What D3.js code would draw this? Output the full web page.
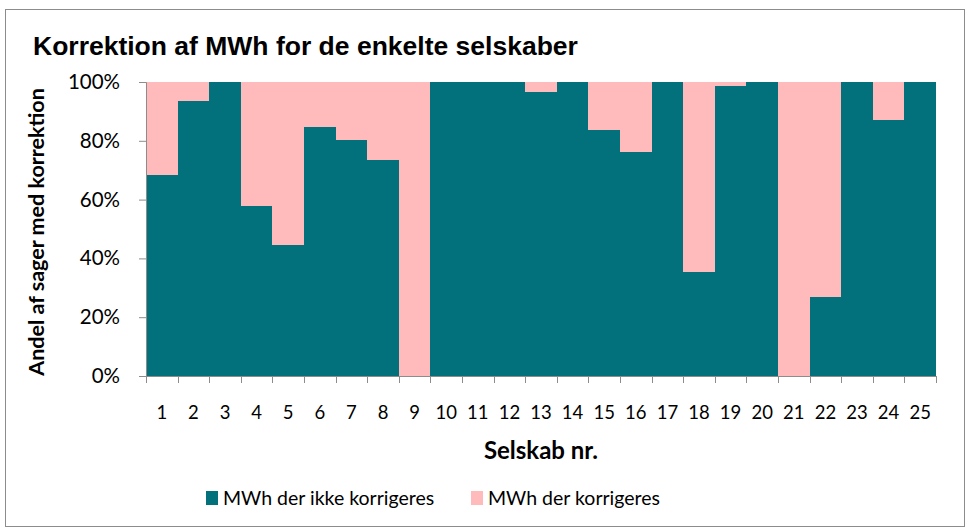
<!DOCTYPE html>
<html>
<head>
<meta charset="utf-8">
<script src="https://cdn.jsdelivr.net/npm/d3@7"></script>
<style>
  body { margin: 0; background: #fff; }
  svg { display: block; }
</style>
</head>
<body>
<svg id="drawing_region"></svg>
<script>
// andel af MWh (i %) pr. selskab
const companies = d3.range(1, 26).map(String);
const notCorrected = [68.5, 93.6, 100, 57.9, 44.5, 84.6, 80.3, 73.6, 0, 100,
                      100, 100, 96.6, 100, 83.6, 76.3, 100, 35.5, 98.5, 100,
                      0, 26.8, 100, 87.0, 100];
const corrected = notCorrected.map(v => 100 - v);
const yTicks = [0, 20, 40, 60, 80, 100];
const seriesNames = ["MWh der ikke korrigeres", "MWh der korrigeres"];
const seriesColors = ["#02717c", "#ffbbbb"];

const config = {
    width: 970,
    height: 532,
    margin: {top: 82, right: 34, bottom: 156, left: 146}
};

const svg = d3.select('#drawing_region')
    .attr('width', config.width)
    .attr('height', config.height);

svg.append('rect')
    .attr('x', 5.5).attr('y', 9.5)
    .attr('width', 959).attr('height', 517)
    .attr('fill', '#fff')
    .attr('stroke', '#8c8c8c')
    .attr('stroke-width', 1);

const inner_width = config.width - config.margin.left - config.margin.right;
const inner_height = config.height - config.margin.top - config.margin.bottom;

const chart = svg.append('g')
    .attr('transform', `translate(${config.margin.left}, ${config.margin.top})`);

const xscale = d3.scaleBand()
    .domain(companies)
    .range([0, inner_width])
    .padding(0);

const yscale = d3.scaleLinear()
    .domain([0, 100])
    .range([inner_height, 0]);

const table = companies.map((c, i) => ({company: c, a: notCorrected[i], b: corrected[i]}));
const stacked = d3.stack().keys(['a', 'b'])(table);

chart.selectAll('g.series')
    .data(stacked)
    .enter()
    .append('g')
    .attr('class', 'series')
    .attr('fill', (d, i) => seriesColors[i])
    .selectAll('rect')
    .data(d => d)
    .enter()
    .append('rect')
    .attr('x', d => Math.round(xscale(d.data.company)))
    .attr('y', d => yscale(d[1]))
    .attr('width', d => Math.round(xscale(d.data.company) + xscale.bandwidth()) - Math.round(xscale(d.data.company)))
    .attr('height', d => yscale(d[0]) - yscale(d[1]))
    .attr('shape-rendering', 'crispEdges');

// y axis
const yaxis = d3.axisLeft(yscale)
    .tickValues(yTicks)
    .tickSize(7)
    .tickPadding(19)
    .tickFormat(d => d + '%');

const yaxis_group = chart.append('g').call(yaxis);
yaxis_group.selectAll('path, line').attr('stroke', '#8c8c8c');
yaxis_group.select('path').attr('d', `M-7,${inner_height + 0.5}H0.5V0.5H-7`);
yaxis_group.selectAll('text')
    .attr('font-family', 'Lato, sans-serif')
    .attr('font-size', '20.5px')
    .attr('fill', '#000');

// x axis
const xaxis_group = chart.append('g')
    .attr('transform', `translate(0, ${inner_height})`);

xaxis_group.append('line')
    .attr('x1', 0).attr('x2', inner_width)
    .attr('y1', 0.5).attr('y2', 0.5)
    .attr('stroke', '#8c8c8c');

xaxis_group.selectAll('line.tick')
    .data(d3.range(0, companies.length + 1))
    .enter()
    .append('line')
    .attr('class', 'tick')
    .attr('x1', i => Math.round(i * xscale.step()) + 0.5)
    .attr('x2', i => Math.round(i * xscale.step()) + 0.5)
    .attr('y1', 0).attr('y2', 7)
    .attr('stroke', '#8c8c8c');

xaxis_group.selectAll('text')
    .data(companies)
    .enter()
    .append('text')
    .attr('x', d => xscale(d) + xscale.bandwidth() / 2)
    .attr('y', 43)
    .attr('text-anchor', 'middle')
    .attr('font-family', 'Lato, sans-serif')
    .attr('font-size', '18.5px')
    .attr('fill', '#000')
    .text(d => d);

// titles
svg.append('text')
    .attr('x', 33)
    .attr('y', 55)
    .attr('font-family', 'Liberation Sans, Arial, sans-serif')
    .attr('font-weight', 'bold')
    .attr('font-size', '26.5px')
    .text('Korrektion af MWh for de enkelte selskaber');

svg.append('text')
    .attr('x', config.margin.left + inner_width / 2)
    .attr('y', 459)
    .attr('text-anchor', 'middle')
    .attr('font-family', 'Lato, sans-serif')
    .attr('font-weight', 'bold')
    .attr('font-size', '24px')
    .text('Selskab nr.');

svg.append('text')
    .attr('transform', `translate(44, ${config.margin.top + inner_height / 2 + 3}) rotate(-90)`)
    .attr('text-anchor', 'middle')
    .attr('font-family', 'Lato, sans-serif')
    .attr('font-weight', 'bold')
    .attr('font-size', '21.5px')
    .text('Andel af sager med korrektion');

// legend
const legendX = [206, 471];
const legend = svg.selectAll('g.legend')
    .data(seriesNames)
    .enter()
    .append('g')
    .attr('class', 'legend')
    .attr('transform', (d, i) => `translate(${legendX[i]}, 490)`);

legend.append('rect')
    .attr('width', 12).attr('height', 14)
    .attr('y', 1)
    .attr('fill', (d, i) => seriesColors[i]);

legend.append('text')
    .attr('x', 17)
    .attr('y', 15)
    .attr('font-family', 'Lato, sans-serif')
    .attr('font-size', '19.5px')
    .text(d => d);
</script>
</body>
</html>
